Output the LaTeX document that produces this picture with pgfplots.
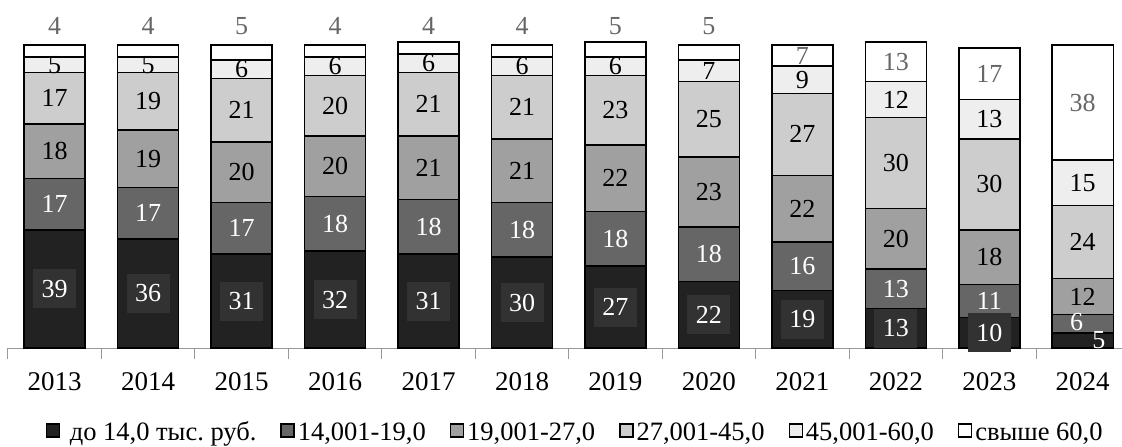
\documentclass[border=0pt]{standalone}
\usepackage{pgfplots}
\pgfplotsset{compat=1.18}
\usepackage{pgfplotstable}
\usepackage{fontspec}
\setmainfont{Liberation Serif}

\definecolor{c1}{HTML}{222222}
\definecolor{c1box}{HTML}{323232}
\definecolor{c2}{HTML}{666666}
\definecolor{c3}{HTML}{A0A0A0}
\definecolor{c4}{HTML}{CDCDCD}
\definecolor{c5}{HTML}{EEEEEE}
\definecolor{c6}{HTML}{FFFFFF}
\definecolor{toplab}{HTML}{666666}

% shares by income group, %, years 2013..2024 at x = 0..11
\pgfplotstableread{
x v dx bo
0 39 0 1
1 36 0 1
2 31 0 1
3 32 0 1
4 31 0 1
5 30 0 1
6 27 0 1
7 22 0 1
8 19 0 1
9 13 0 1
10 10 0 1
11 5 16 0
}\tA
\pgfplotstableread{
x v dx dy
0 17 0 0
1 17 0 0
2 17 0 0
3 18 0 0
4 18 0 0
5 18 0 0
6 18 0 0
7 18 0 0
8 16 0 0
9 13 0 0
10 11 0 0
11 6 -6 0.7
}\tB
\pgfplotstableread{
x v
0 18
1 19
2 20
3 20
4 21
5 21
6 22
7 23
8 22
9 20
10 18
11 12
}\tC
\pgfplotstableread{
x v
0 17
1 19
2 21
3 20
4 21
5 21
6 23
7 25
8 27
9 30
10 30
11 24
}\tD
\pgfplotstableread{
x v
0 5
1 5
2 6
3 6
4 6
5 6
6 6
7 7
8 9
9 12
10 13
11 15
}\tE
% dy: label offset from the segment centre (axis units)
\pgfplotstableread{
x v dy
0 4 8.3
1 4 8.3
2 5 8.8
3 4 8.3
4 4 7.3
5 4 8.3
6 5 7.8
7 5 8.8
8 7 0
9 13 0
10 17 0
11 38 0
}\tF

\begin{document}
\begin{tikzpicture}
\useasboundingbox (-8pt,-99pt) rectangle (1114pt,348pt);
\begin{axis}[
  scale only axis,
  width=1114pt, height=333.3pt,
  ybar stacked, bar width=61pt,
  xmin=-0.5, xmax=11.42,
  ymin=0, ymax=110,
  axis x line*=bottom,
  axis y line=none,
  x axis line style={draw=gray!80, line width=1pt, -},
  xtick={0,...,11},
  xticklabels={2013,2014,2015,2016,2017,2018,2019,2020,2021,2022,2023,2024},
  major x tick style={draw=none},
  minor xtick={-0.5,0.5,...,11.5},
  minor tick length=11pt,
  minor x tick style={draw=gray!80, line width=1pt},
  tick align=outside,
  xticklabel style={font=\fontsize{27}{30}\selectfont, anchor=center, yshift=-29pt},
  /pgf/number format/assume math mode=true,
  point meta=explicit,
  nodes near coords,
  every node near coord/.append style={anchor=center, font=\fontsize{26}{28}\selectfont},
  legend style={at={(0.509,-0.252)}, anchor=center, draw=none,
    legend columns=6, font=\fontsize{26.5}{28}\selectfont,
    /tikz/every odd column/.append style={column sep=1pt},
    /tikz/every even column/.append style={column sep=22pt}},
  legend image code/.code={\draw[#1, draw=black, line width=1.3pt] (0pt,-5pt) rectangle (13pt,8pt);},
]
\addplot[fill=c1, draw=black, line width=1.5pt,
  visualization depends on={\thisrow{dx}\as\dx},
  visualization depends on={\thisrow{bo}\as\bo},
  every node near coord/.append style={text=white, fill=c1box, fill opacity=\bo, text opacity=1,
    minimum width=43pt, minimum height=39pt, xshift=\dx pt}]
  table[x=x, y=v, meta=v] {\tA};
\addplot[fill=c2, draw=black, line width=1.5pt,
  visualization depends on={\thisrow{dx}\as\dx},
  visualization depends on={\thisrow{dy}\as\dy},
  every node near coord/.append style={text=white,
    shift={(axis direction cs:0,\dy)}, xshift=\dx pt}]
  table[x=x, y=v, meta=v] {\tB};
\addplot[fill=c3, draw=black, line width=1.5pt,
  every node near coord/.append style={text=black}]
  table[x=x, y=v, meta=v] {\tC};
\addplot[fill=c4, draw=black, line width=1.5pt,
  every node near coord/.append style={text=black}]
  table[x=x, y=v, meta=v] {\tD};
\addplot[fill=c5, draw=black, line width=1.5pt,
  every node near coord/.append style={text=black}]
  table[x=x, y=v, meta=v] {\tE};
\addplot[fill=c6, draw=black, line width=1.5pt,
  visualization depends on={\thisrow{dy}\as\dy},
  every node near coord/.append style={text=toplab, shift={(axis direction cs:0,\dy)}}]
  table[x=x, y=v, meta=v] {\tF};
\legend{{\hspace{7pt}до 14,0 тыс.\ руб.}, {14,001-19,0}, {19,001-27,0}, {27,001-45,0}, {45,001-60,0}, {свыше 60,0}}
\end{axis}
\end{tikzpicture}
\end{document}
